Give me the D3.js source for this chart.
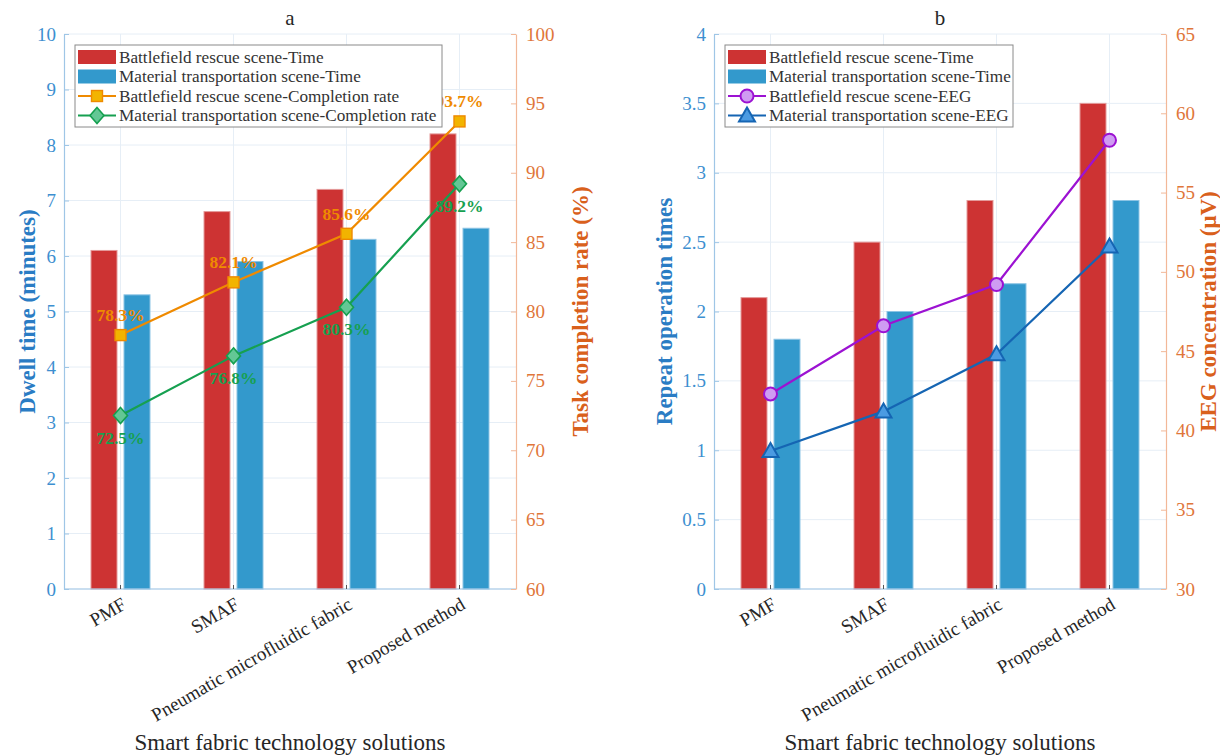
<!DOCTYPE html>
<html>
<head>
<meta charset="utf-8">
<script src="https://cdn.jsdelivr.net/npm/d3@7/dist/d3.min.js"></script>
<style>
  html, body { margin: 0; padding: 0; background: #ffffff; }
  svg { display: block; }
  text { font-family: "Liberation Serif", "Times New Roman", serif; }
</style>
</head>
<body>
<svg id="chart" width="1220" height="756"></svg>
<script>
// ---- data ----
const categories = ["PMF", "SMAF", "Pneumatic microfluidic fabric", "Proposed method"];

// panel a: dwell time (bars, left axis) and completion rate (lines, right axis)
const dwellBattle   = [6.1, 6.8, 7.2, 8.2];
const dwellMaterial = [5.3, 5.9, 6.3, 6.5];
const rateBattle    = [78.3, 82.1, 85.6, 93.7];
const rateMaterial  = [72.5, 76.8, 80.3, 89.2];

// panel b: repeat operations (bars, left axis) and EEG (lines, right axis)
const repeatBattle   = [2.1, 2.5, 2.8, 3.5];
const repeatMaterial = [1.8, 2.0, 2.2, 2.8];
const eegBattle      = [42.3, 46.6, 49.2, 58.3];
const eegMaterial    = [38.7, 41.2, 44.8, 51.6];

const dwellTicks  = [0, 1, 2, 3, 4, 5, 6, 7, 8, 9, 10];
const rateTicks   = [60, 65, 70, 75, 80, 85, 90, 95, 100];
const repeatTicks = [0, 0.5, 1, 1.5, 2, 2.5, 3, 3.5, 4];
const eegTicks    = [30, 35, 40, 45, 50, 55, 60, 65];

// ---- styling ----
const C = {
  red: "#cd3333", redEdge: "#e49a9a",
  blue: "#3399cc", blueEdge: "#8cc4e4",
  leftTick: "#3d8fd0", leftTitle: "#2a7cc4", leftLine: "#9fc6e6",
  rightTick: "#e0763a", rightTitle: "#d9601c", rightLine: "#f2b898",
  grid: "#e6eef6",
  orange: "#ef8a00", orangeFill: "#f2b400",
  green: "#16a050", greenFill: "#63c795",
  purple: "#9c12d2", purpleFill: "#cf9cf2",
  navy: "#1565b3", navyFill: "#4b9be2",
  text: "#262626"
};

const svg = d3.select("#chart");
svg.append("rect").attr("width", 1220).attr("height", 756).attr("fill", "#fff");

const plotTop = 34, plotBottom = 589;

function marker(g, type, x, y, stroke, fill) {
  if (type === "square") {
    g.append("rect").attr("x", x - 5.5).attr("y", y - 5.5).attr("width", 11).attr("height", 11)
      .attr("fill", fill).attr("stroke", stroke).attr("stroke-width", 1.4);
  } else if (type === "diamond") {
    g.append("path").attr("d", `M${x},${y - 8}L${x + 7},${y}L${x},${y + 8}L${x - 7},${y}Z`)
      .attr("fill", fill).attr("stroke", stroke).attr("stroke-width", 1.6);
  } else if (type === "circle") {
    g.append("circle").attr("cx", x).attr("cy", y).attr("r", 6.5)
      .attr("fill", fill).attr("stroke", stroke).attr("stroke-width", 2);
  } else if (type === "triangle") {
    g.append("path").attr("d", `M${x},${y - 8}L${x + 8},${y + 6}L${x - 8},${y + 6}Z`)
      .attr("fill", fill).attr("stroke", stroke).attr("stroke-width", 2);
  }
}

function drawPanel(p) {
  const left = p.left, right = p.right;
  const g = svg.append("g");

  const x = d3.scaleBand().domain(categories).range([left, right]).paddingInner(0).paddingOuter(0);
  const bw = x.bandwidth();
  const cx = c => x(c) + bw / 2;
  const yL = d3.scaleLinear().domain(p.leftDomain).range([plotBottom, plotTop]);
  const yR = d3.scaleLinear().domain(p.rightDomain).range([plotBottom, plotTop]);

  // grid
  const grid = g.append("g");
  grid.selectAll("line.h").data(p.leftTicks).join("line")
    .attr("x1", left).attr("x2", right).attr("y1", d => yL(d)).attr("y2", d => yL(d))
    .attr("stroke", C.grid).attr("stroke-width", 1);
  grid.selectAll("line.v").data(categories).join("line")
    .attr("x1", d => cx(d)).attr("x2", d => cx(d)).attr("y1", plotTop).attr("y2", plotBottom)
    .attr("stroke", C.grid).attr("stroke-width", 1);

  // grouped bars
  const inner = d3.scaleBand().domain([0, 1]).range([-0.261 * bw, 0.261 * bw]).paddingInner(0.212).paddingOuter(0);
  const barSeries = [
    { vals: p.barA, fill: C.red, edge: C.redEdge },
    { vals: p.barB, fill: C.blue, edge: C.blueEdge }
  ];
  barSeries.forEach((s, i) => {
    g.append("g").selectAll("rect").data(categories).join("rect")
      .attr("x", (c) => cx(c) + inner(i))
      .attr("width", inner.bandwidth())
      .attr("y", (c, k) => yL(s.vals[k]))
      .attr("height", (c, k) => plotBottom - yL(s.vals[k]))
      .attr("fill", s.fill).attr("stroke", s.edge).attr("stroke-width", 1);
  });

  // lines on the right axis
  const line = d3.line().x((d, k) => cx(categories[k])).y(d => yR(d));
  p.lines.forEach(s => {
    g.append("path").datum(s.vals).attr("d", line)
      .attr("fill", "none").attr("stroke", s.color).attr("stroke-width", 2.2);
    const mg = g.append("g");
    s.vals.forEach((v, k) => marker(mg, s.marker, cx(categories[k]), yR(v), s.color, s.fill));
    if (s.labelDy !== undefined) {
      g.append("g").selectAll("text").data(s.vals).join("text")
        .attr("x", (d, k) => cx(categories[k]))
        .attr("y", d => yR(d) + s.labelDy)
        .attr("text-anchor", "middle").attr("dominant-baseline", "central")
        .attr("font-size", 17.5).attr("font-weight", "bold").attr("fill", s.color)
        .text(d => d.toFixed(1) + "%");
    }
  });

  // axes lines
  g.append("line").attr("x1", left).attr("x2", right).attr("y1", plotBottom).attr("y2", plotBottom)
    .attr("stroke", C.leftLine).attr("stroke-width", 1.2);

  const axL = d3.axisLeft(yL).tickValues(p.leftTicks).tickSizeInner(-5).tickSizeOuter(0).tickPadding(8)
    .tickFormat(d3.format("~g"));
  const gL = g.append("g").attr("transform", `translate(${left},0)`).call(axL);
  gL.select(".domain").attr("stroke", C.leftLine).attr("stroke-width", 1.2);
  gL.selectAll(".tick line").attr("stroke", C.leftLine);
  gL.selectAll(".tick text").attr("fill", C.leftTick).attr("font-size", 19)
    .attr("font-family", "'Liberation Serif', serif");

  const axR = d3.axisRight(yR).tickValues(p.rightTicks).tickSizeInner(-5).tickSizeOuter(0).tickPadding(10)
    .tickFormat(d3.format("~g"));
  const gR = g.append("g").attr("transform", `translate(${right},0)`).call(axR);
  gR.select(".domain").attr("stroke", C.rightLine).attr("stroke-width", 1.2);
  gR.selectAll(".tick line").attr("stroke", C.rightLine);
  gR.selectAll(".tick text").attr("fill", C.rightTick).attr("font-size", 19)
    .attr("font-family", "'Liberation Serif', serif");

  // category ticks and rotated labels
  g.append("g").selectAll("line").data(categories).join("line")
    .attr("x1", d => cx(d)).attr("x2", d => cx(d)).attr("y1", plotBottom).attr("y2", plotBottom - 4)
    .attr("stroke", "#555").attr("stroke-width", 1);
  g.append("g").selectAll("text").data(categories).join("text")
    .attr("transform", d => `translate(${cx(d) + 7},${plotBottom + 19}) rotate(-30)`)
    .attr("text-anchor", "end").attr("font-size", 19).attr("fill", C.text)
    .text(d => d);

  // titles
  g.append("text").attr("x", (left + right) / 2).attr("y", 25).attr("text-anchor", "middle")
    .attr("font-size", 21).attr("fill", C.text).text(p.title);
  g.append("text").attr("x", (left + right) / 2).attr("y", 750).attr("text-anchor", "middle")
    .attr("font-size", 23).attr("fill", C.text).text("Smart fabric technology solutions");
  g.append("text").attr("transform", `translate(${left - p.leftTitleOffset},${(plotTop + plotBottom) / 2}) rotate(-90)`)
    .attr("text-anchor", "middle").attr("dominant-baseline", "central")
    .attr("font-size", 23).attr("font-weight", "bold")
    .attr("fill", C.leftTitle).text(p.leftTitle);
  g.append("text").attr("transform", `translate(${right + p.rightTitleOffset},${(plotTop + plotBottom) / 2}) rotate(-90)`)
    .attr("text-anchor", "middle").attr("dominant-baseline", "central")
    .attr("font-size", 23).attr("font-weight", "bold")
    .attr("fill", C.rightTitle).text(p.rightTitle);

  // legend
  const lg = g.append("g").attr("transform", `translate(${left + 11},45)`);
  lg.append("rect").attr("x", 0).attr("y", 0).attr("width", p.legendWidth).attr("height", 82)
    .attr("fill", "#fff").attr("stroke", "#8a8a8a").attr("stroke-width", 1);
  const items = [
    { label: p.legend[0], kind: "bar", color: C.red },
    { label: p.legend[1], kind: "bar", color: C.blue },
    { label: p.legend[2], kind: "line", s: p.lines[0] },
    { label: p.legend[3], kind: "line", s: p.lines[1] }
  ];
  items.forEach((it, i) => {
    const yy = 12 + i * 19.5;
    if (it.kind === "bar") {
      lg.append("rect").attr("x", 3).attr("y", yy - 7).attr("width", 38).attr("height", 14)
        .attr("fill", it.color);
    } else {
      lg.append("line").attr("x1", 3).attr("x2", 41).attr("y1", yy).attr("y2", yy)
        .attr("stroke", it.s.color).attr("stroke-width", 2.2);
      marker(lg, it.s.marker, 22, yy, it.s.color, it.s.fill);
    }
    lg.append("text").attr("x", 44).attr("y", yy).attr("dominant-baseline", "central")
      .attr("font-size", 17.2).attr("fill", "#333").text(it.label);
  });
}

drawPanel({
  title: "a", left: 64, right: 516,
  leftDomain: [0, 10], rightDomain: [60, 100],
  leftTicks: dwellTicks, rightTicks: rateTicks,
  barA: dwellBattle, barB: dwellMaterial,
  lines: [
    { vals: rateBattle, color: C.orange, fill: C.orangeFill, marker: "square", labelDy: -20 },
    { vals: rateMaterial, color: C.green, fill: C.greenFill, marker: "diamond", labelDy: 22 }
  ],
  leftTitle: "Dwell time (minutes)", rightTitle: "Task completion rate (%)",
  leftTitleOffset: 37, rightTitleOffset: 64,
  legend: ["Battlefield rescue scene-Time", "Material transportation scene-Time",
           "Battlefield rescue scene-Completion rate", "Material transportation scene-Completion rate"],
  legendWidth: 367
});

drawPanel({
  title: "b", left: 714, right: 1166,
  leftDomain: [0, 4], rightDomain: [30, 65],
  leftTicks: repeatTicks, rightTicks: eegTicks,
  barA: repeatBattle, barB: repeatMaterial,
  lines: [
    { vals: eegBattle, color: C.purple, fill: C.purpleFill, marker: "circle" },
    { vals: eegMaterial, color: C.navy, fill: C.navyFill, marker: "triangle" }
  ],
  leftTitle: "Repeat operation times", rightTitle: "EEG concentration (μV)",
  leftTitleOffset: 50, rightTitleOffset: 42,
  legend: ["Battlefield rescue scene-Time", "Material transportation scene-Time",
           "Battlefield rescue scene-EEG", "Material transportation scene-EEG"],
  legendWidth: 288
});
</script>
</body>
</html>
